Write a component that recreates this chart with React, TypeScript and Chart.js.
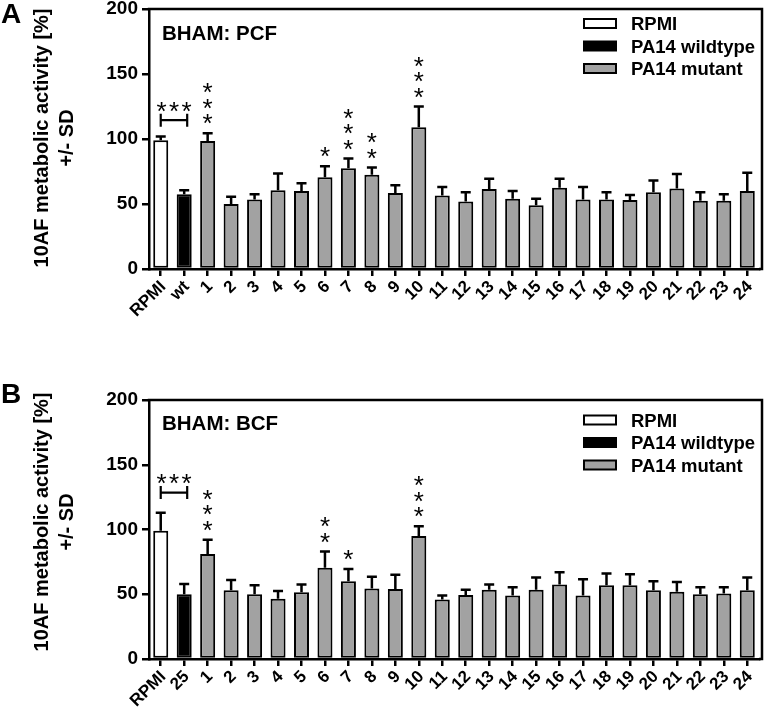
import React, { useEffect, useRef } from 'react';
import { Chart, registerables } from 'chart.js';

Chart.register(...registerables);

if (typeof document !== 'undefined') {
  document.body.style.margin = '0';
}

const FONT = '"Liberation Sans", Arial, Helvetica, sans-serif';

// ---------- Data ----------
const mutantLabels = ['1','2','3','4','5','6','7','8','9','10','11','12','13','14','15','16','17','18','19','20','21','22','23','24'];
const labelsA = ['RPMI', 'wt', ...mutantLabels];
const labelsB = ['RPMI', '25', ...mutantLabels];

const meansA = [99, 57.5, 98.5, 50, 53.5, 60.5, 60, 70.5, 77.5, 72.5, 58.5, 109, 56.5, 52, 61.5, 54, 49, 62.5, 53.5, 53.5, 53, 59, 62, 52.5, 52.5, 60];
const sdA    = [3, 3, 6, 5.5, 4, 13, 6, 8.5, 7.5, 5.5, 6, 16, 6.5, 7, 8, 6, 5, 7, 9.5, 5.5, 4, 9, 11, 6.5, 5, 14];
const starsA = [0, 0, 3, 0, 0, 0, 0, 1, 3, 2, 0, 3, 0, 0, 0, 0, 0, 0, 0, 0, 0, 0, 0, 0, 0, 0];

const meansB = [99, 50, 81, 53, 50, 46.5, 51.5, 70.5, 60, 54.5, 54, 95, 46, 49.5, 53.5, 49, 53.5, 57.5, 49, 57, 57, 53, 52, 50, 50.5, 53];
const sdB    = [14, 8, 11, 8, 7, 6, 6, 12.5, 9.5, 9, 11, 7.5, 3, 4, 4, 6.5, 9.5, 9.5, 12.5, 9, 8.5, 7, 7.5, 5.5, 5, 10];
const starsB = [0, 0, 3, 0, 0, 0, 0, 2, 1, 0, 0, 3, 0, 0, 0, 0, 0, 0, 0, 0, 0, 0, 0, 0, 0, 0];

const legendNames = ['RPMI', 'PA14 wildtype', 'PA14 mutant'];
const groupColors = ['#ffffff', '#000000', '#a2a2a2'];
const yTicks = [0, 50, 100, 150, 200];
const yTitle = ['10AF metabolic activity [%]', '+/- SD'];

const W = 766;

type PanelProps = {
  top: number;
  height: number;
  areaTop: number;
  areaBottom: number;
  labels: string[];
  means: number[];
  sds: number[];
  stars: number[];
  title: string;
  letter: string;
  bracketValue: number;
  legendBase: number;
  titleBase: number;
  yTitleCenter: number;
};

function groupOf(i: number) {
  return i === 0 ? 0 : i === 1 ? 1 : 2;
}

function Panel(p: PanelProps) {
  const ref = useRef<HTMLCanvasElement | null>(null);
  useEffect(() => {
    const canvas = ref.current!;
    canvas.getContext('2d', { willReadFrequently: true } as any);
    const AREA_LEFT = 149;
    const AREA_RIGHT = 759;
    const FRAME_RIGHT = 762;

    const drawStar = (ctx: CanvasRenderingContext2D, x: number, cy: number) => {
      const m = ctx.measureText('*');
      const asc = m.actualBoundingBoxAscent;
      const desc = m.actualBoundingBoxDescent;
      ctx.fillText('*', x, cy - (desc - asc) / 2);
    };

    const annot = {
      id: 'annot',
      afterDatasetsDraw(chart: any) {
        const ctx: CanvasRenderingContext2D = chart.ctx;
        const xs = chart.scales.x;
        const ys = chart.scales.y;
        const area = chart.chartArea;
        const meta = chart.getDatasetMeta(0);
        ctx.save();
        ctx.strokeStyle = '#000';
        ctx.fillStyle = '#000';
        ctx.lineWidth = 2.5;
        ctx.lineCap = 'butt';
        // error bars (upper only)
        p.means.forEach((m, i) => {
          const x = meta.data[i].x;
          const y0 = ys.getPixelForValue(m);
          const y1 = ys.getPixelForValue(m + p.sds[i]);
          ctx.beginPath();
          ctx.moveTo(x, y0);
          ctx.lineTo(x, y1);
          ctx.moveTo(x - 5, y1);
          ctx.lineTo(x + 5, y1);
          ctx.stroke();
        });
        // significance stars above bars
        ctx.font = `26px ${FONT}`;
        ctx.textAlign = 'center';
        ctx.textBaseline = 'alphabetic';
        p.stars.forEach((n, i) => {
          if (!n) return;
          const x = meta.data[i].x;
          const yTop = ys.getPixelForValue(p.means[i] + p.sds[i]);
          for (let k = 0; k < n; k++) {
            drawStar(ctx, x, yTop - 14 - k * 15.5);
          }
        });
        // bracket between first two bars
        const xa = meta.data[0].x;
        const xb = meta.data[1].x + 3;
        const yb = ys.getPixelForValue(p.bracketValue);
        ctx.lineWidth = 2.2;
        ctx.beginPath();
        ctx.moveTo(xa, yb - 6.5);
        ctx.lineTo(xa, yb + 6.5);
        ctx.moveTo(xa, yb);
        ctx.lineTo(xb, yb);
        ctx.moveTo(xb, yb - 6.5);
        ctx.lineTo(xb, yb + 6.5);
        ctx.stroke();
        const xm = (xa + xb) / 2;
        for (let k = -1; k <= 1; k++) drawStar(ctx, xm + k * 12.5, yb - 13.5);

        // frame (top and right)
        ctx.lineWidth = 2.5;
        ctx.beginPath();
        ctx.moveTo(area.left - 1.25, area.top);
        ctx.lineTo(FRAME_RIGHT, area.top);
        ctx.lineTo(FRAME_RIGHT, area.bottom);
        ctx.lineTo(area.right, area.bottom);
        ctx.stroke();

        // rotated category labels at the x scale's tick positions
        ctx.font = `bold 17px ${FONT}`;
        ctx.textAlign = 'right';
        ctx.textBaseline = 'middle';
        const c = Math.SQRT1_2;
        p.labels.forEach((lab, i) => {
          const x = xs.getPixelForTick(i);
          ctx.save();
          ctx.setTransform(c, -c, c, c, x + 2.5, area.bottom + 15);
          ctx.fillText(lab, 0, 0);
          ctx.restore();
        });

        // panel title
        ctx.textAlign = 'left';
        ctx.textBaseline = 'alphabetic';
        ctx.font = `bold 20.5px ${FONT}`;
        ctx.fillText(p.title, area.left + 13, p.titleBase);

        // legend
        ctx.font = `bold 18.5px ${FONT}`;
        legendNames.forEach((name, j) => {
          const base = p.legendBase + j * 22.5;
          const cy = base - 6.5;
          ctx.fillStyle = groupColors[j];
          ctx.fillRect(584, cy - 4.5, 32, 9);
          ctx.lineWidth = 2;
          ctx.strokeStyle = '#000';
          ctx.strokeRect(584, cy - 4.5, 32, 9);
          ctx.fillStyle = '#000';
          ctx.fillText(name, 631, base);
        });

        // y axis title
        ctx.font = `bold 20px ${FONT}`;
        ctx.textAlign = 'center';
        ctx.textBaseline = 'middle';
        const offs = [42, 67];
        yTitle.forEach((t, j) => {
          ctx.save();
          ctx.translate(offs[j], p.yTitleCenter);
          ctx.rotate(-Math.PI / 2);
          ctx.fillText(t, 0, 0);
          ctx.restore();
        });

        // panel letter
        ctx.textAlign = 'left';
        ctx.textBaseline = 'alphabetic';
        ctx.font = `bold 28px ${FONT}`;
        ctx.fillText(p.letter, 1, 23);
        ctx.restore();
      },
    };

    const chart = new Chart(canvas, {
      type: 'bar',
      data: {
        labels: p.labels,
        datasets: [
          {
            data: p.means,
            backgroundColor: p.means.map((_, i) => groupColors[groupOf(i)]),
            borderColor: '#000',
            borderWidth: 2,
            borderSkipped: false,
            barPercentage: 0.64,
            categoryPercentage: 1,
          },
        ],
      },
      options: {
        responsive: false,
        maintainAspectRatio: false,
        animation: false,
        devicePixelRatio: 1,
        layout: {
          autoPadding: false,
          padding: { top: p.areaTop, right: W - AREA_RIGHT, left: 0, bottom: 0 },
        },
        plugins: {
          legend: { display: false },
          tooltip: { enabled: false },
          title: { display: false },
        },
        scales: {
          x: {
            type: 'category',
            offset: true,
            grid: {
              display: true,
              offset: false,
              drawOnChartArea: false,
              drawTicks: true,
              tickLength: 7,
              lineWidth: 2.5,
              color: '#000',
            },
            border: { display: true, color: '#000', width: 2.5 },
            ticks: {
              display: false,
              autoSkip: false,
            },
            afterFit: (s: any) => {
              s.height = p.height - p.areaBottom;
              s.paddingLeft = 0;
              s.paddingRight = 0;
            },
          },
          y: {
            min: 0,
            max: 200,
            afterBuildTicks: (s: any) => {
              s.ticks = yTicks.map((v) => ({ value: v }));
            },
            grid: {
              display: true,
              drawOnChartArea: false,
              drawTicks: true,
              tickLength: 7,
              lineWidth: 2.5,
              color: '#000',
            },
            border: { display: true, color: '#000', width: 2.5 },
            ticks: {
              color: '#000',
              padding: 4,
              font: { family: FONT, size: 19, weight: 'bold' },
            },
            afterFit: (s: any) => {
              s.width = AREA_LEFT;
              s.paddingTop = 0;
              s.paddingBottom = 0;
            },
          },
        },
      } as any,
      plugins: [annot],
    });
    return () => chart.destroy();
  }, []);

  return (
    <canvas
      ref={ref}
      width={W}
      height={p.height}
      style={{ display: 'block', position: 'absolute', left: 0, top: p.top, width: W, height: p.height }}
    />
  );
}

export default function App() {
  return (
    <div style={{ position: 'relative', width: 766, height: 719, background: '#fff' }}>
      <Panel
        top={0}
        height={372}
        areaTop={9}
        areaBottom={269}
        labels={labelsA}
        means={meansA}
        sds={sdA}
        stars={starsA}
        title="BHAM: PCF"
        letter="A"
        bracketValue={114.5}
        legendBase={30}
        titleBase={39.5}
        yTitleCenter={138}
      />
      <Panel
        top={380}
        height={339}
        areaTop={20}
        areaBottom={279}
        labels={labelsB}
        means={meansB}
        sds={sdB}
        stars={starsB}
        title="BHAM: BCF"
        letter="B"
        bracketValue={128.5}
        legendBase={46.5}
        titleBase={50}
        yTitleCenter={142}
      />
    </div>
  );
}
